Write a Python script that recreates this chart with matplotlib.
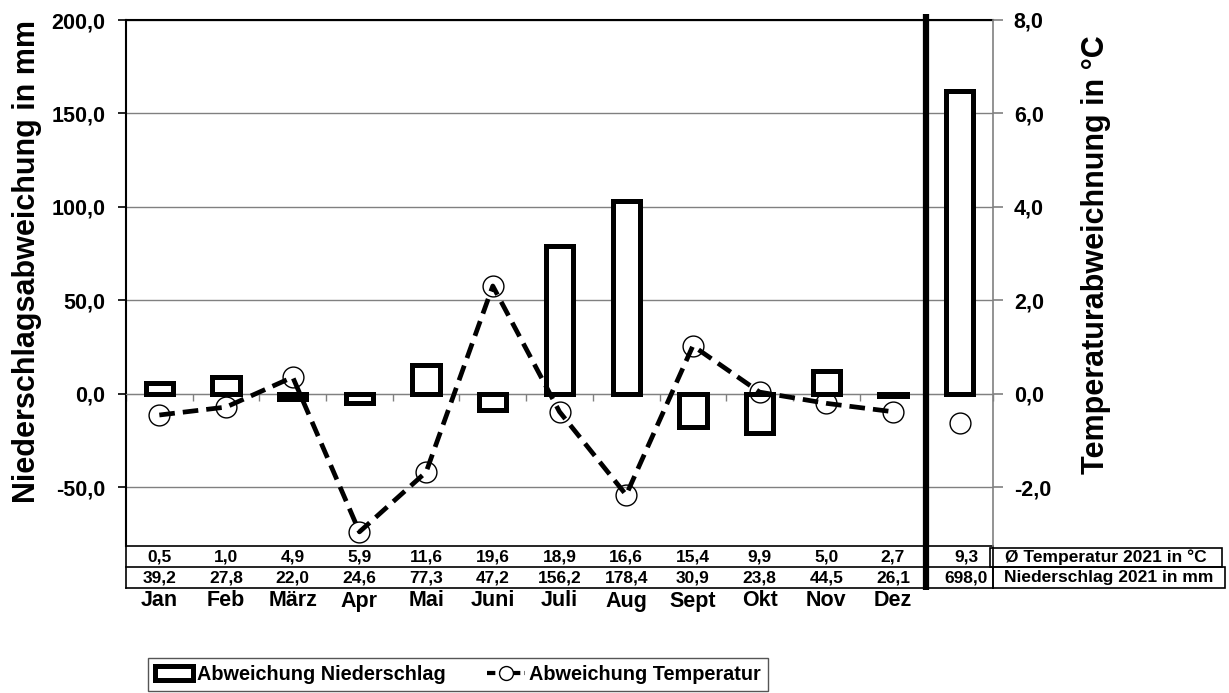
import matplotlib
matplotlib.use("Agg")
import matplotlib.pyplot as plt
import matplotlib.transforms as mtransforms
from matplotlib.patches import Patch, Rectangle
from matplotlib.lines import Line2D
from matplotlib.ticker import FuncFormatter

plt.rcParams['font.family'] = ['Liberation Sans', 'DejaVu Sans']
plt.rcParams['font.weight'] = 'bold'

months = ["Jan", "Feb", "März", "Apr", "Mai", "Juni", "Juli", "Aug", "Sept", "Okt", "Nov", "Dez"]

# deviation of precipitation (mm) per month, plus the whole year
precip_dev = [6, 9, -2.5, -5, 15.5, -8.8, 79, 103, -17.5, -21, 12.5, -1.2]
precip_dev_year = 162

# deviation of temperature (°C)
temp_dev = [-0.45, -0.28, 0.36, -2.95, -1.67, 2.31, -0.38, -2.16, 1.03, 0.04, -0.2, -0.38]
temp_dev_year = -0.62

# table values 2021
temp_2021 = [0.5, 1.0, 4.9, 5.9, 11.6, 19.6, 18.9, 16.6, 15.4, 9.9, 5.0, 2.7]
temp_2021_year = 9.3
precip_2021 = [39.2, 27.8, 22.0, 24.6, 77.3, 47.2, 156.2, 178.4, 30.9, 23.8, 44.5, 26.1]
precip_2021_year = 698.0


def de(v):
    return f"{v:.1f}".replace(".", ",")


W, H = 1229, 693


def fy(ypix):
    return 1 - ypix / H


fig = plt.figure(figsize=(W / 100, H / 100), dpi=100)
ax = fig.add_axes([126 / W, fy(546), (993 - 126) / W, (546 - 20) / H])
ax2 = ax.twinx()

ymin, ymax = -81.3, 200
ax.set_ylim(ymin, ymax)
ax2.set_ylim(ymin / 25, ymax / 25)
ax.set_xlim(-0.5, 12.5)

xs = list(range(13))
ax.set_axisbelow(True)
ax.yaxis.grid(True, color="#808080", linewidth=1)
ax.bar(xs, precip_dev + [precip_dev_year], width=0.41, facecolor="white",
       edgecolor="black", linewidth=3.6, zorder=3)

dash = (0, (3.3, 1.7))
ax2.plot(xs[:12], temp_dev, color="black", linewidth=3.4, linestyle=dash,
         marker="o", markersize=15, markerfacecolor="none",
         markeredgecolor="black", markeredgewidth=1, zorder=4)
ax2.plot([12], [temp_dev_year], linestyle="none", marker="o", markersize=15,
         markerfacecolor="none", markeredgecolor="black", markeredgewidth=1)

# axes styling
ax.set_yticks([-50, 0, 50, 100, 150, 200])
ax.yaxis.set_major_formatter(FuncFormatter(lambda v, p: de(v)))
ax.tick_params(axis="y", direction="out", length=6, width=1.2, pad=9,
               labelsize=15.5, colors="black")
ax2.set_yticks([-2, 0, 2, 4, 6, 8])
ax2.yaxis.set_major_formatter(FuncFormatter(lambda v, p: de(v)))
ax2.tick_params(axis="y", direction="out", length=7, width=1.2, pad=8,
                labelsize=15.5, color="#808080", labelcolor="black")

ax.spines["bottom"].set_position(("data", 0))
ax.spines["bottom"].set_color("#808080")
ax.spines["right"].set_visible(False)
ax.spines["left"].set_linewidth(1.5)
ax.spines["top"].set_linewidth(1.5)
ax.set_xticks([i - 0.5 for i in range(14)])
ax.set_xticklabels([])
ax.tick_params(axis="x", direction="out", length=5, width=1, color="#808080")
for s in ["left", "top", "bottom"]:
    ax2.spines[s].set_visible(False)
ax2.spines["right"].set_color("#808080")
ax2.spines["right"].set_linewidth(1.2)

# axis titles
fig.text(27 / W, fy(262), "Niederschlagsabweichung in mm", rotation=90,
         ha="center", va="center", fontsize=22, fontweight="bold")
fig.text(1096 / W, fy(255), "Temperaturabweichnung in °C", rotation=90,
         ha="center", va="center", fontsize=22, fontweight="bold")

# table under the plot
tr = mtransforms.blended_transform_factory(ax.transData, fig.transFigure)
for yp in [546, 567, 588]:
    ax.plot([-0.5, 12.5], [fy(yp), fy(yp)], transform=tr, color="black",
            linewidth=1.2, clip_on=False)
for xv in [-0.5, 12.5]:
    ax.plot([xv, xv], [fy(546), fy(588)], transform=tr, color="black",
            linewidth=1.2, clip_on=False)

for i in range(12):
    ax.text(i, fy(557), de(temp_2021[i]), transform=tr, ha="center",
            va="center", fontsize=12.5, fontweight="bold")
    ax.text(i, fy(578), de(precip_2021[i]), transform=tr, ha="center",
            va="center", fontsize=12.5, fontweight="bold")
    ax.text(i, fy(601), months[i], transform=tr, ha="center", va="center",
            fontsize=15.5, fontweight="bold")
ax.text(12.1, fy(557), de(temp_2021_year), transform=tr, ha="center",
        va="center", fontsize=12.5, fontweight="bold")
ax.text(12.1, fy(578), de(precip_2021_year), transform=tr, ha="center",
        va="center", fontsize=12.5, fontweight="bold")

# label boxes right of table
for (x0, y0, x1, y1, txt) in [(990, 548, 1222, 567, "Ø Temperatur 2021 in °C"),
                              (993, 567, 1225, 588, "Niederschlag 2021 in mm")]:
    fig.patches.append(Rectangle((x0 / W, fy(y1)), (x1 - x0) / W, (y1 - y0) / H,
                                 transform=fig.transFigure, facecolor="none",
                                 edgecolor="black", linewidth=1.2))
    fig.text((x0 + x1) / 2 / W, fy((y0 + y1) / 2), txt, ha="center", va="center",
             fontsize=12.5, fontweight="bold")

# thick separator before the year column
ax2.plot([11.5, 11.5], [fy(14), fy(590)], transform=tr, color="black",
         linewidth=4.5, clip_on=False, solid_capstyle="butt")

# legend
handles = [
    Patch(facecolor="white", edgecolor="black", linewidth=3.6),
    Line2D([], [], color="black", linewidth=3, linestyle=(0, (2, 1)),
           marker="o", markersize=10, markerfacecolor="white",
           markeredgecolor="black", markeredgewidth=1),
]
leg = fig.legend(handles, ["Abweichung Niederschlag", "Abweichung Temperatur"],
                 loc="center", bbox_to_anchor=(458 / W, fy(674.5)), ncol=2,
                 prop={"size": 14.3, "weight": "bold"}, frameon=True,
                 fancybox=False, framealpha=1, edgecolor="#555555",
                 handlelength=1.9, handletextpad=0.2, columnspacing=2.1,
                 borderpad=0.35, borderaxespad=0)
leg.get_frame().set_linewidth(1)

fig.savefig("out.png", dpi=100)
